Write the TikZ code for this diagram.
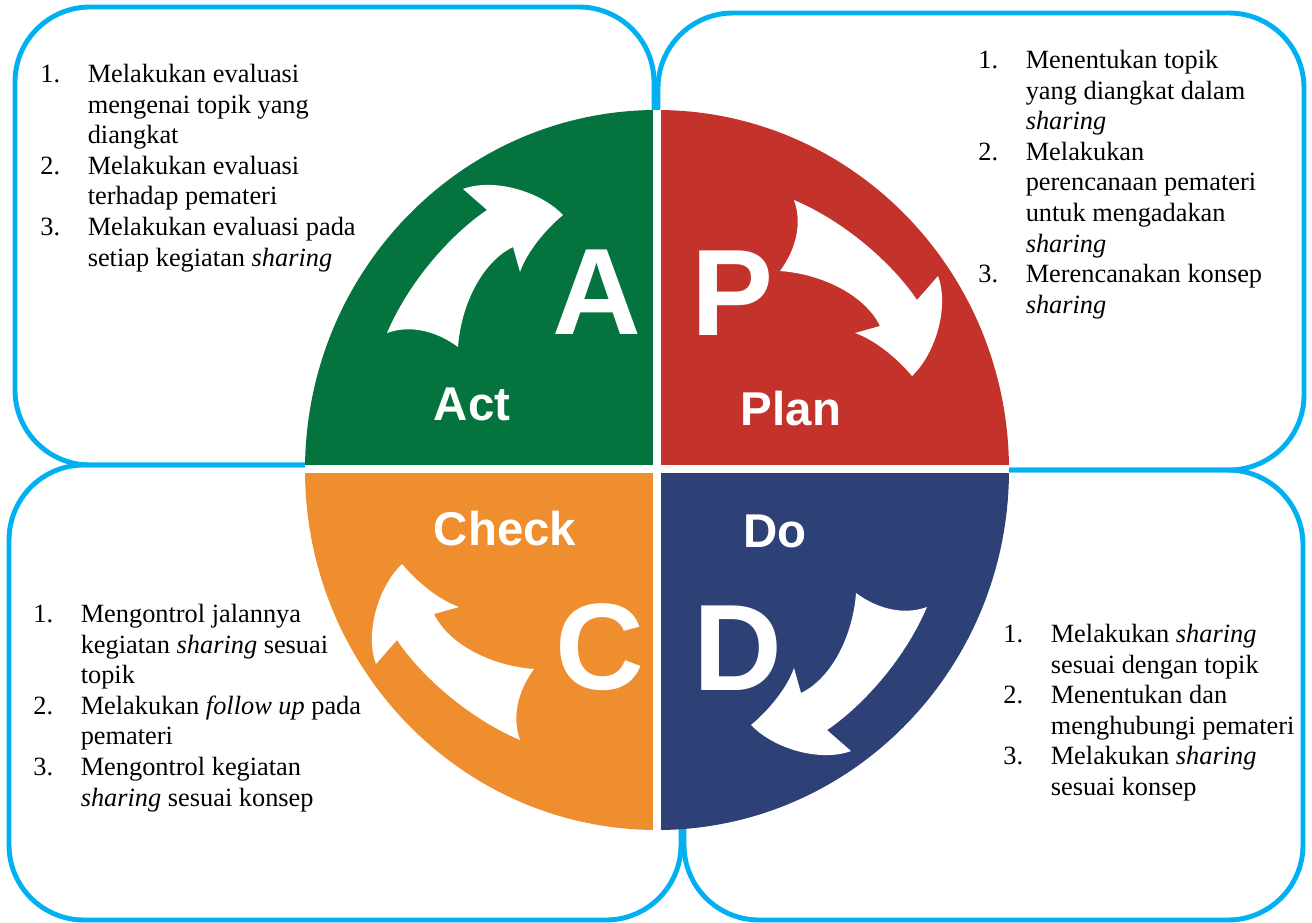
\documentclass[tikz,border=0pt]{standalone}
\usepackage{fontspec}
\setmainfont{Liberation Serif}
\newfontfamily\arialfont{Liberation Sans}
\usetikzlibrary{positioning}

\definecolor{boxcyan}{RGB}{0,176,240}
\definecolor{actgreen}{RGB}{4,115,62}
\definecolor{planred}{RGB}{196,50,44}
\definecolor{checkorange}{RGB}{238,142,46}
\definecolor{donavy}{RGB}{45,65,119}

\newcommand{\stepnum}[1]{\makebox[27pt][l]{#1}}
\newcommand{\stepcont}{\hspace*{27pt}}

\begin{document}
\begin{tikzpicture}[x=0.02cm,y=-0.02cm,
    box/.style={draw=boxcyan,line width=2.8pt,rounded corners=1.5cm},
    steps/.style={anchor=north west,inner sep=0pt,align=left,
        font=\fontsize{15}{17.4}\selectfont},
    bigletter/.style={text=white,inner sep=0pt,
        font=\arialfont\bfseries\fontsize{70}{70}\selectfont},
    phase/.style={text=white,inner sep=0pt,
        font=\arialfont\bfseries\fontsize{27}{27}\selectfont}]

    \useasboundingbox (0,0) rectangle (1312,923);

    % Boxes behind the wheel
    \draw[box] (15,7) rectangle (654,465);
    \draw[box] (658,13) rectangle (1304,470);
    \draw[box] (9,465) rectangle (681,920);
    \draw[box] (684,470) rectangle (1303,920);

    \begin{scope}[shift={(657,470)},y=0.02cm]  % PDCA wheel
        \fill[actgreen] (0,0) -- (-352,0) arc[start angle=180,end angle=90,x radius=352,y radius=360] -- cycle;
        \fill[planred] (0,0) -- (0,360) arc[start angle=90,end angle=0,x radius=352,y radius=360] -- cycle;
        \fill[donavy] (0,0) -- (352,0) arc[start angle=0,end angle=-90,x radius=352,y radius=360] -- cycle;
        \fill[checkorange] (0,0) -- (0,-360) arc[start angle=-90,end angle=-180,x radius=352,y radius=360] -- cycle;
        \fill[white] (-4,-360) rectangle (4,360);
        \fill[white] (-352,-3) rectangle (352,5);

        \foreach \ang in {0,-90,-180,-270}
            \fill[white,rotate=\ang] (-270,137) .. controls (-245,195) and (-200,240) .. (-170,260)
                -- (-194,281) .. controls (-165,292) and (-118,280) .. (-94,255)
                .. controls (-112,240) and (-130,218) .. (-137,198)
                -- (-144,223) .. controls (-175,208) and (-196,165) .. (-199,123)
                .. controls (-222,140) and (-248,145) .. cycle;
    \end{scope}

    \node[bigletter] (letterA) at (597,292) {A};
    \node[bigletter] (letterP) at (733,293) {P};
    \node[bigletter] (letterC) at (600,647) {C};
    \node[bigletter] (letterD) at (738,648) {D};

    \node[phase] (act) at (472,404) {Act};
    \node[phase] (plan) at (791,409) {Plan};
    \node[phase] (check) at (505,529) {Check};
    \node[phase] (do) at (775,531) {Do};

    \node[steps] (actlist) at (40,64) {%
        \stepnum{1.}Melakukan evaluasi\\
        \stepcont mengenai topik yang\\
        \stepcont diangkat\\
        \stepnum{2.}Melakukan evaluasi\\
        \stepcont terhadap pemateri\\
        \stepnum{3.}Melakukan evaluasi pada\\
        \stepcont setiap kegiatan \textit{sharing}};

    \node[steps] (planlist) at (978,50) {%
        \stepnum{1.}Menentukan topik\\
        \stepcont yang diangkat dalam\\
        \stepcont \textit{sharing}\\
        \stepnum{2.}Melakukan\\
        \stepcont perencanaan pemateri\\
        \stepcont untuk mengadakan\\
        \stepcont \textit{sharing}\\
        \stepnum{3.}Merencanakan konsep\\
        \stepcont \textit{sharing}};

    \node[steps] (checklist) at (33,604) {%
        \stepnum{1.}Mengontrol jalannya\\
        \stepcont kegiatan \textit{sharing} sesuai\\
        \stepcont topik\\
        \stepnum{2.}Melakukan \textit{follow up} pada\\
        \stepcont pemateri\\
        \stepnum{3.}Mengontrol kegiatan\\
        \stepcont \textit{sharing} sesuai konsep};

    \node[steps] (dolist) at (1003,624) {%
        \stepnum{1.}Melakukan \textit{sharing}\\
        \stepcont sesuai dengan topik\\
        \stepnum{2.}Menentukan dan\\
        \stepcont menghubungi pemateri\\
        \stepnum{3.}Melakukan \textit{sharing}\\
        \stepcont sesuai konsep};
\end{tikzpicture}
\end{document}
